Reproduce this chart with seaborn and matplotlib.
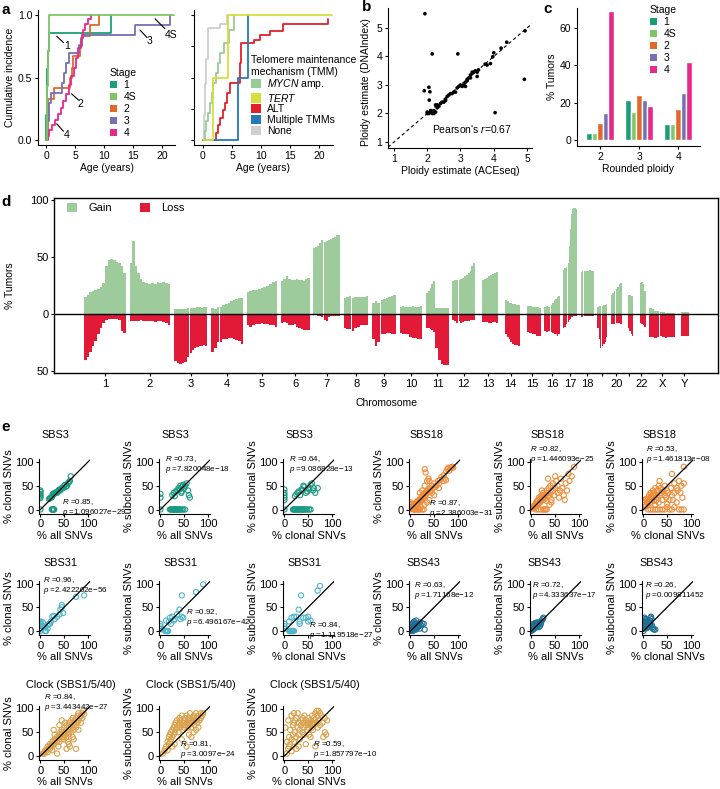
"""Neuroblastoma summary figure: incidence curves, ploidy, CNV profile and signature scatter panels."""

import matplotlib
matplotlib.use("Agg")
import matplotlib.pyplot as plt
import numpy as np
import pandas as pd
import seaborn as sns
from matplotlib.patches import Patch

FIG_W, FIG_H = 720, 789

# ---------------- panel a: cumulative incidence ----------------
STAGE_LABELS = ["1", "4S", "2", "3", "4"]
STAGE_COLORS = ["#1b9e77", "#80c565", "#e0692a", "#7570b3", "#e7298a"]

STAGE1_AGE = [0, 0.05, 0.1, 0.2, 0.3, 0.45, 11.2]
STAGE1_CI = [0, 0.2, 0.43, 0.57, 0.71, 0.86, 1.0]
STAGE4S_AGE = [0, 0.1, 0.2, 0.3, 0.4, 0.5, 0.6, 22]
STAGE4S_CI = [0, 0.2, 0.43, 0.57, 0.71, 0.86, 1.0, 1.0]
STAGE2_AGE = [0, 0.3, 0.4, 1.4, 4.2, 4.4, 4.6, 5.9, 6.2, 7.5, 9.2]
STAGE2_CI = [0, 0.08, 0.33, 0.42, 0.5, 0.58, 0.67, 0.75, 0.83, 0.92, 1.0]
STAGE3_AGE = [0, 0.2, 0.5, 0.8, 2.8, 3.1, 3.5, 4.0, 5.7, 6.2, 15.3, 21.3]
STAGE3_CI = [0, 0.15, 0.3, 0.38, 0.46, 0.54, 0.62, 0.7, 0.76, 0.84, 0.92, 1.0]
STAGE4_AGE = [0, 0.3, 0.6, 1.0, 1.5, 2.0, 2.5, 3.0, 3.5, 3.9, 4.3, 4.8, 5.2, 5.6, 6.0, 6.4, 6.8, 7.2, 7.7]
STAGE4_CI = [0, 0.03, 0.08, 0.12, 0.16, 0.21, 0.26, 0.31, 0.37, 0.44, 0.51, 0.58, 0.66, 0.74,
             0.82, 0.88, 0.93, 0.97, 1.0]

# label text, label position, leader line start / end
STAGE_TAGS = ["1", "2", "3", "4", "4S"]
STAGE_TAG_XY = [(3.6, 0.75), (6.0, 0.29), (17.9, 0.79), (3.6, 0.04), (21.6, 0.84)]
STAGE_TAG_FROM = [(1.84, 0.83), (4.4, 0.37), (16.2, 0.88), (1.84, 0.13), (18.8, 0.97)]
STAGE_TAG_TO = [(3.0, 0.78), (5.6, 0.32), (17.4, 0.82), (3.0, 0.07), (20.5, 0.89)]

TMM_LABELS = [r"$\mathit{MYCN}$ amp.", r"$\mathit{TERT}$", "ALT", "Multiple TMMs", "None"]
TMM_COLORS = ["#98cc96", "#d6de3c", "#e3202b", "#2479b8", "#cfcfcf"]
MYCN_AGE = [0, 0.3, 0.6, 0.9, 1.2, 1.5, 1.8, 2.2, 2.6, 3.0, 3.6, 4.4, 5.3]
MYCN_CI = [0, 0.07, 0.15, 0.22, 0.3, 0.38, 0.46, 0.54, 0.62, 0.7, 0.78, 0.88, 1.0]
TERT_AGE = [0, 1.8, 4.3, 22.2]
TERT_CI = [0, 0.5, 1.0, 1.0]
ALT_AGE = [0, 2.2, 2.6, 3.0, 3.4, 3.8, 4.2, 4.6, 6.3, 6.6, 8.8, 9.9, 11.5, 13.8, 21.5]
ALT_CI = [0, 0.06, 0.12, 0.18, 0.24, 0.3, 0.38, 0.46, 0.62, 0.78, 0.8, 0.84, 0.87, 0.93, 0.97]
MULTI_AGE = [0, 6.1, 7.7]
MULTI_CI = [0, 0.5, 1.0]
NONE_AGE = [0, 0.2, 0.4, 0.6, 0.8, 0.9, 3.0, 4.1]
NONE_CI = [0, 0.2, 0.45, 0.65, 0.8, 0.9, 0.93, 1.0]

# ---------------- panel b: ploidy estimates ----------------
ACESEQ_PLOIDY = [2.0, 2.05, 2.1, 2.15, 2.2, 2.1, 2.2, 2.25, 2.3, 2.3, 2.35, 2.4, 2.45, 2.5, 2.55,
                 2.6, 2.65, 2.7, 2.55, 2.8, 2.9, 2.95, 3.0, 3.05, 3.1, 3.15, 3.2, 3.25, 3.3, 3.35,
                 3.4, 3.45, 3.5, 3.5, 3.3, 3.15, 3.2, 3.54, 3.74, 3.8, 3.9, 3.97, 4.0, 4.22, 4.39,
                 4.94, 2.75, 2.85, 2.0, 2.25, 1.93, 2.15, 2.92, 1.91, 2.05, 2.08, 2.06, 4.04, 4.92]
DNAINDEX_PLOIDY = [2.0, 2.0, 2.05, 2.0, 2.0, 2.1, 2.1, 2.05, 2.2, 2.3, 2.25, 2.35, 2.4, 2.4, 2.5,
                   2.6, 2.65, 2.7, 2.45, 2.75, 2.9, 2.95, 3.0, 2.95, 3.0, 3.1, 3.2, 3.25, 3.35, 3.45,
                   3.45, 3.5, 3.45, 3.3, 3.25, 2.95, 3.15, 3.53, 3.73, 3.7, 3.75, 3.99, 4.13, 4.29,
                   4.5, 4.9, 2.7, 2.75, 2.05, 2.3, 5.5, 4.09, 4.09, 2.8, 2.92, 2.76, 2.47, 2.03, 3.2]

# ---------------- panel c: ploidy by stage ----------------
PLOIDY_GROUPS = ["2", "3", "4"]
PCT_STAGE1 = [3.6, 21.5, 8.4]
PCT_STAGE4S = [3.6, 15.2, 8.4]
PCT_STAGE2 = [9.0, 24.2, 16.7]
PCT_STAGE3 = [14.3, 21.5, 25.1]
PCT_STAGE4 = [69.3, 18.3, 41.7]

# ---------------- panel d: CNV frequency along the genome ----------------
CHROM_LABELS = [str(i) for i in range(1, 23)] + ["X", "Y"]
CHROM_TICK_LABELS = [str(i) for i in range(1, 19)] + ["", "20", "", "22", "X", "Y"]
CHROM_LEN_MB = [249, 243, 198, 191, 181, 171, 159, 146, 141, 136, 135, 134, 115, 107, 103,
                90, 81, 78, 59, 63, 48, 51, 155, 59]
CENTROMERE_MB = [125, 93, 91, 50, 48, 60, 60, 45, 49, 40, 53, 35, 17, 17, 19, 36, 24, 17, 26,
                 28, 13, 15, 60, 12]
GAIN_P = [[15, 17, 19, 20, 21, 22, 24, 27], [45, 64, 42, 36, 31, 28], [4, 4, 4, 4, 4, 5],
          [5, 4, 6], [19, 20, 21], [29, 31, 33, 31], [58, 59, 60, 62, 65], [14, 15, 16],
          [10, 11, 10], [6, 7, 6], [18, 20, 23, 26, 29], [29, 30, 30], [], [], [], [6, 7, 6],
          [39, 40, 41], [37, 38], [6, 7, 7], [17, 18, 20], [], [], [5, 4, 3, 3], []]
GAIN_Q = [[42, 47, 48, 47, 46, 45, 42, 36], [27, 26, 27, 26, 28, 27, 28, 27, 26],
          [5, 5, 5, 6, 6, 5, 6, 6], [6, 8, 9, 10, 11, 12, 13, 14, 14],
          [21, 22, 23, 24, 25, 26, 28, 29], [30, 30, 31, 30, 30, 29, 31, 32],
          [63, 64, 65, 66, 67, 68, 69, 69], [14, 15, 15, 15, 15, 16], [12, 13, 14, 15, 16, 17],
          [6, 6, 7, 6, 6, 7], [5, 5, 5, 5, 5], [30, 31, 32, 33, 34, 36, 38, 42, 45],
          [30, 31, 32, 33, 34, 35, 36, 37], [12, 11, 10, 10, 9, 9, 8, 8],
          [7, 7, 7, 6, 6, 6, 6, 5], [8, 10, 12, 13, 15, 16], [45, 60, 75, 88, 92, 93, 93, 92],
          [38, 38, 38, 38, 39, 38, 38], [7, 8, 8, 9], [22, 24, 26, 27], [17, 17, 16, 16],
          [27, 28, 26, 20], [2, 2, 1, 1, 1, 1], [2, 2]]
LOSS_P = [[40, 38, 33, 28, 24, 18, 12, 8], [6, 6, 6, 6, 5, 6], [41, 43, 44, 43, 42, 38],
          [33, 30, 25], [10, 11, 10], [8, 7, 8, 10], [1, 1, 2, 2, 3], [12, 13, 13],
          [22, 28, 25], [17, 18, 18], [12, 12, 13, 14, 16], [5, 6, 8], [], [], [], [15, 16, 15],
          [12, 11, 9], [3, 3], [12, 22, 30], [9, 9, 9], [], [], [20, 20, 21, 20], []]
LOSS_Q = [[5, 4, 4, 4, 4, 5, 15, 17], [6, 6, 6, 7, 6, 6, 7, 8, 10],
          [34, 32, 30, 29, 28, 28, 27, 28], [25, 22, 22, 21, 21, 22, 23, 24, 26],
          [9, 9, 8, 9, 9, 10, 10, 11], [10, 9, 11, 12, 13, 14, 14, 14],
          [5, 6, 3, 2, 2, 2, 2, 2], [15, 12, 11, 10, 10, 10], [18, 18, 17, 17, 18, 18],
          [18, 20, 21, 21, 22, 22], [30, 40, 44, 45, 45], [6, 8, 7, 6, 6, 6, 5, 5, 5],
          [7, 7, 7, 8, 8, 7, 7, 8], [18, 20, 22, 25, 26, 27, 27, 28],
          [16, 17, 17, 18, 18, 19, 19, 19], [16, 17, 18, 18, 19, 18], [7, 5, 4, 3, 3, 2, 2, 2],
          [2, 2, 2, 2, 2, 2, 2], [28, 26, 25, 20], [8, 8, 8, 9], [12, 15, 18, 19],
          [8, 9, 10, 11], [19, 20, 21, 20, 20, 20], [19, 19]]
GAIN_COLOR = "#9dcb9b"
LOSS_COLOR = "#e31a37"

# ---------------- panel e: signature exposures (x, y) ----------------
SBS3_CLONAL_VS_ALL = [
    (0, 24), (0, 27), (0, 30), (0, 33), (0, 37), (0, 40),
    (24, 0), (25, 0), (26, 0), (27, 0), (28, 0), (29, 0),
    (18, 22), (20, 24), (22, 25), (24, 26), (25, 28), (26, 33), (28, 32), (30, 35), (31, 34),
    (33, 36), (35, 35), (36, 38), (38, 40), (40, 42), (42, 40), (44, 44), (46, 46), (48, 45),
    (50, 50), (52, 52), (54, 48), (56, 50), (58, 55), (60, 58), (62, 60), (64, 70), (0, 0)]
SBS3_SUBCLONAL_VS_ALL = [
    (0, 25), (0, 33),
    (20, 0), (22, 0), (24, 0), (26, 0), (27, 0), (28, 0), (29, 0), (30, 0), (31, 0), (32, 0),
    (33, 0), (34, 0), (35, 0), (36, 0), (38, 0), (40, 0), (42, 0), (45, 0), (48, 0), (52, 0),
    (25, 30), (28, 35), (30, 28), (32, 38), (35, 40), (38, 45), (40, 42), (42, 50), (44, 35),
    (46, 48), (48, 52), (50, 45), (52, 50), (55, 55), (58, 40), (60, 30), (62, 25), (45, 38),
    (0, 0)]
SBS3_SUBCLONAL_VS_CLONAL = [
    (0, 20), (0, 25), (0, 30), (0, 35), (0, 42),
    (18, 0), (20, 0), (22, 0), (24, 0), (26, 0), (28, 0), (30, 0), (32, 0), (34, 0), (36, 0),
    (38, 0), (40, 0), (42, 0), (45, 0), (48, 0), (52, 0), (55, 0),
    (22, 28), (25, 32), (28, 35), (30, 38), (33, 30), (36, 42), (38, 40), (40, 50), (42, 48),
    (45, 35), (48, 38), (50, 45), (52, 42), (55, 52), (58, 55), (60, 40), (62, 45), (65, 35),
    (70, 45), (0, 0)]

SBS18_CLONAL_VS_ALL = [
    (2, 2), (3, 5), (5, 3), (5, 8), (6, 6), (8, 10), (8, 5), (10, 12), (10, 8), (12, 10),
    (12, 15), (14, 12), (15, 18), (15, 10), (16, 14), (18, 20), (18, 15), (20, 22), (20, 18),
    (22, 25), (22, 20), (24, 28), (25, 22), (26, 30), (28, 25), (28, 32), (30, 35), (30, 28),
    (32, 30), (34, 38), (35, 40), (36, 35), (38, 42), (40, 45), (40, 38), (42, 40), (45, 50),
    (48, 45), (50, 55), (52, 48), (55, 50), (58, 60), (60, 55), (62, 62), (65, 68), (70, 72),
    (72, 65), (75, 80), (78, 85), (80, 88), (82, 82), (85, 88), (88, 90), (90, 88),
    (30, 85), (32, 78), (35, 60), (38, 65), (25, 40), (20, 35), (40, 60), (30, 50),
    (5, 0), (8, 0), (10, 0), (12, 0), (15, 0), (18, 0), (20, 0), (25, 0), (28, 0), (22, 5),
    (30, 10), (35, 15), (40, 20), (45, 35), (70, 60), (75, 62), (60, 45), (50, 30), (10, 2),
    (15, 5), (0, 10), (0, 15), (3, 12)]
SBS18_SUBCLONAL_VS_ALL = [
    (2, 2), (4, 5), (5, 8), (6, 3), (8, 10), (8, 6), (10, 12), (10, 15), (12, 8), (12, 18),
    (14, 20), (15, 12), (16, 25), (18, 15), (18, 22), (20, 28), (20, 18), (22, 25), (22, 30),
    (24, 20), (25, 35), (26, 28), (28, 30), (28, 22), (30, 32), (30, 25), (32, 40), (32, 18),
    (34, 35), (35, 28), (36, 45), (38, 30), (40, 50), (40, 35), (42, 20), (45, 55), (45, 40),
    (48, 30), (50, 45), (52, 60), (55, 35), (55, 50), (58, 25), (60, 40), (62, 65), (65, 45),
    (68, 30), (70, 20), (72, 55), (75, 40), (78, 75), (80, 60), (85, 70), (90, 90), (35, 65),
    (50, 70), (22, 40), (25, 0), (28, 0), (30, 0), (32, 0), (20, 0), (15, 0), (10, 0),
    (38, 10), (42, 15)]
SBS18_SUBCLONAL_VS_CLONAL = [
    (0, 20), (0, 15), (2, 10), (3, 5), (5, 8), (5, 22), (8, 15), (8, 20), (10, 12), (10, 25),
    (12, 18), (12, 30), (14, 22), (15, 15), (15, 35), (16, 28), (18, 25), (18, 20), (20, 30),
    (20, 40), (22, 35), (22, 18), (24, 28), (25, 45), (25, 10), (26, 32), (28, 38), (28, 20),
    (30, 40), (30, 25), (32, 50), (32, 15), (34, 60), (35, 30), (36, 45), (38, 35), (40, 20),
    (40, 42), (42, 38), (45, 30), (45, 50), (48, 25), (50, 40), (50, 12), (52, 35), (55, 20),
    (58, 45), (60, 30), (60, 75), (62, 20), (65, 35), (65, 55), (70, 15), (70, 45), (72, 40),
    (75, 60), (78, 35), (80, 50), (82, 25), (85, 90), (85, 55), (20, 0), (25, 0), (30, 0),
    (35, 0), (40, 0), (45, 0), (50, 5), (55, 0), (60, 0), (65, 5), (75, 0), (80, 0), (85, 0),
    (10, 0), (15, 0)]

SBS31_CLONAL_VS_ALL = [
    (0, 15), (0, 18), (0, 20), (0, 12), (5, 10), (5, 18), (10, 0), (12, 0), (15, 5), (18, 15),
    (20, 15), (22, 20), (25, 30), (28, 32), (30, 25), (35, 30), (40, 35), (42, 45), (45, 50),
    (45, 55), (48, 38), (75, 72), (92, 75), (10, 8), (15, 12), (0, 0), (2, 3)]
SBS31_SUBCLONAL_VS_ALL = [
    (0, 5), (0, 10), (0, 15), (10, 0), (12, 0), (14, 0), (15, 0), (16, 0), (12, 22), (18, 20),
    (22, 15), (25, 30), (28, 22), (30, 25), (35, 35), (40, 45), (42, 25), (45, 30), (48, 28),
    (45, 75), (75, 82), (90, 98), (20, 28), (5, 3)]
SBS31_SUBCLONAL_VS_CLONAL = [
    (0, 5), (0, 10), (0, 15), (10, 0), (12, 0), (14, 0), (16, 0), (18, 0), (20, 0), (10, 20),
    (15, 28), (20, 30), (25, 30), (30, 45), (32, 20), (35, 75), (40, 28), (45, 28), (50, 30),
    (55, 22), (50, 20), (70, 85), (75, 95), (32, 15)]

SBS43_CLONAL_VS_ALL = [
    (0, 0), (1, 3), (2, 1), (3, 5), (3, 8), (4, 2), (5, 4), (5, 10), (6, 6), (7, 3), (8, 7),
    (8, 12), (9, 9), (10, 5), (10, 15), (11, 8), (12, 10), (12, 22), (13, 12), (14, 6),
    (15, 14), (15, 9), (16, 11), (18, 15), (20, 18), (22, 13), (25, 16), (28, 15), (2, 12),
    (4, 15), (6, 18), (8, 20), (10, 5), (12, 3), (14, 8), (16, 12), (18, 10), (20, 5),
    (30, 3), (5, 0)]
SBS43_SUBCLONAL_VS_ALL = [
    (0, 0), (1, 2), (2, 5), (3, 3), (4, 8), (5, 6), (6, 10), (7, 12), (8, 9), (9, 14),
    (10, 11), (11, 15), (12, 13), (13, 17), (14, 12), (15, 16), (16, 14), (18, 18), (20, 20),
    (22, 22), (25, 28), (2, 10), (4, 12), (6, 15), (8, 17), (10, 13), (12, 18), (14, 16),
    (16, 15), (18, 10), (3, 6), (5, 4), (7, 7), (9, 11), (11, 8), (0, 10), (1, 14), (15, 8),
    (20, 15), (24, 25)]
SBS43_SUBCLONAL_VS_CLONAL = [
    (0, 0), (1, 5), (2, 10), (3, 25), (4, 8), (5, 15), (6, 20), (7, 12), (8, 18), (9, 14),
    (10, 10), (12, 22), (14, 16), (15, 28), (16, 30), (18, 12), (20, 5), (22, 3), (2, 28),
    (4, 22), (6, 25), (8, 14), (10, 8), (12, 18), (14, 12), (3, 18), (5, 10), (7, 6), (0, 12),
    (1, 20), (11, 15), (13, 22), (19, 8), (17, 25), (25, 3)]

CLOCK_CLONAL_VS_ALL = [
    (5, 5), (8, 8), (10, 12), (12, 10), (15, 15), (15, 20), (18, 18), (20, 15), (20, 25),
    (22, 22), (25, 20), (25, 30), (28, 55), (28, 25), (30, 32), (30, 35), (32, 28), (35, 5),
    (35, 40), (35, 30), (38, 38), (40, 45), (40, 30), (42, 40), (42, 50), (45, 45), (45, 35),
    (45, 55), (48, 50), (48, 40), (50, 50), (50, 60), (50, 35), (52, 45), (52, 70), (55, 55),
    (55, 40), (55, 65), (58, 50), (58, 30), (60, 60), (60, 70), (60, 45), (62, 55), (62, 20),
    (65, 65), (65, 75), (65, 50), (68, 60), (68, 80), (70, 70), (70, 55), (70, 35), (72, 75),
    (72, 65), (75, 80), (75, 60), (75, 15), (78, 85), (78, 70), (80, 75), (80, 90), (80, 55),
    (82, 80), (85, 85), (85, 70), (88, 90), (88, 80), (90, 95), (92, 88), (40, 65), (45, 75),
    (60, 25), (68, 40), (55, 15), (30, 45), (38, 20), (25, 12), (15, 8), (8, 5)]
CLOCK_SUBCLONAL_VS_ALL = [
    (5, 5), (8, 10), (10, 15), (12, 20), (15, 30), (15, 12), (18, 25), (18, 40), (20, 45),
    (20, 30), (22, 50), (22, 35), (25, 55), (25, 40), (28, 60), (28, 45), (30, 65), (30, 50),
    (32, 55), (32, 70), (35, 60), (35, 75), (38, 65), (38, 50), (40, 70), (40, 80), (42, 60),
    (42, 75), (45, 65), (45, 85), (48, 70), (48, 55), (50, 75), (50, 60), (52, 80), (52, 65),
    (55, 70), (55, 85), (58, 75), (58, 60), (60, 80), (60, 65), (62, 70), (62, 90), (65, 75),
    (65, 60), (68, 80), (68, 70), (70, 75), (70, 85), (72, 65), (72, 80), (75, 75), (75, 90),
    (78, 80), (78, 70), (80, 85), (80, 60), (82, 75), (85, 80), (85, 90), (88, 85), (90, 90),
    (55, 20), (60, 45), (65, 40), (70, 50), (45, 35), (30, 25), (25, 20), (75, 55)]
CLOCK_SUBCLONAL_VS_CLONAL = [
    (5, 5), (5, 30), (8, 15), (10, 20), (10, 40), (12, 25), (12, 55), (15, 35), (15, 10),
    (18, 45), (18, 65), (20, 30), (20, 70), (22, 50), (22, 75), (25, 40), (25, 80), (25, 15),
    (28, 60), (28, 90), (30, 45), (30, 70), (32, 55), (32, 35), (35, 75), (35, 65), (38, 50),
    (38, 80), (40, 70), (40, 60), (42, 45), (42, 85), (45, 65), (45, 75), (48, 55), (48, 70),
    (50, 80), (50, 60), (52, 45), (52, 70), (55, 65), (55, 75), (58, 60), (58, 85), (60, 70),
    (60, 55), (62, 80), (62, 65), (65, 75), (65, 90), (68, 95), (68, 70), (70, 60), (70, 85),
    (72, 75), (72, 95), (75, 65), (75, 90), (78, 85), (80, 70), (82, 40), (85, 80), (85, 50),
    (88, 45), (90, 75), (2, 60), (8, 75), (15, 85), (20, 90), (45, 25), (55, 40), (65, 20),
    (30, 20)]

SIGNATURES = ["SBS3", "SBS18", "SBS31", "SBS43", "Clock (SBS1/5/40)"]
SIG_COLORS = ["#1a9a84", "#ee8e3c", "#4db5ca", "#1f6f95", "#d9a14c"]
SIG_POINTS = [
    [SBS3_CLONAL_VS_ALL, SBS3_SUBCLONAL_VS_ALL, SBS3_SUBCLONAL_VS_CLONAL],
    [SBS18_CLONAL_VS_ALL, SBS18_SUBCLONAL_VS_ALL, SBS18_SUBCLONAL_VS_CLONAL],
    [SBS31_CLONAL_VS_ALL, SBS31_SUBCLONAL_VS_ALL, SBS31_SUBCLONAL_VS_CLONAL],
    [SBS43_CLONAL_VS_ALL, SBS43_SUBCLONAL_VS_ALL, SBS43_SUBCLONAL_VS_CLONAL],
    [CLOCK_CLONAL_VS_ALL, CLOCK_SUBCLONAL_VS_ALL, CLOCK_SUBCLONAL_VS_CLONAL],
]
R_VALUES = [["0.85", "0.73", "0.64"], ["0.87", "0.82", "0.53"], ["0.96", "0.92", "0.84"],
            ["0.63", "0.72", "0.26"], ["0.84", "0.81", "0.59"]]
P_VALUES = [["1.096027e−29", "7.820048e−18", "9.086828e−13"],
            ["2.386003e−31", "1.446093e−25", "1.461813e−08"],
            ["2.422202e−56", "6.496167e−42", "1.119518e−27"],
            ["1.71168e−12", "4.333637e−17", "0.009811452"],
            ["3.443442e−27", "3.0097e−24", "1.857797e−10"]]
E_XLABELS = ["% all SNVs", "% all SNVs", "% clonal SNVs"]
E_YLABELS = ["% clonal SNVs", "% subclonal SNVs", "% subclonal SNVs"]

# layout of panel e (pixels / data coordinates)
E_COL_LEFT = [39, 159, 283, 409, 530, 642]
E_ROW_ZERO = [509.5, 631, 756]
E_TITLE_Y = [435, 563, 685]
E_SLOT = [(0, 0), (0, 3), (1, 0), (1, 3), (2, 0)]
E_TITLE_SHIFT = [2, 0, 4, -3, -13]
E_STAT_XY = [[(46, 26), (10, 117), (10, 117)], [(39, 25), (-2, 138), (5, 138)],
             [(6, 118), (53, 50), (52, 23)], [(8, 108), (2, 108), (4, 108)],
             [(7, 134), (42, 35), (60, 35)]]
E_PX_PER_UNIT = 0.475


def add_axes_px(fig, left, top, right, bottom):
    return fig.add_axes([left / FIG_W, 1 - bottom / FIG_H, (right - left) / FIG_W, (bottom - top) / FIG_H])


def fig_point(px, py):
    return (px / FIG_W, 1 - py / FIG_H)


def patch_legend(ax, fig, labels, colors, title, anchor_px, size=7.5, ncol=1, **kw):
    handles = [Patch(facecolor=c, edgecolor="none", label=l) for l, c in zip(labels, colors)]
    leg = ax.legend(handles=handles, title=title, loc="upper left", ncol=ncol,
                    bbox_to_anchor=fig_point(*anchor_px), bbox_transform=fig.transFigure,
                    frameon=False, fontsize=size, title_fontsize=size, borderpad=0,
                    borderaxespad=0, alignment="left", **kw)
    return leg


def draw_step_curves(ax, curves):
    for ages, ci, color in curves:
        sns.lineplot(x=ages, y=ci, drawstyle="steps-post", estimator=None, sort=False,
                     color=color, lw=1.3, ax=ax)


def main() -> None:
    sns.set_style("ticks")
    plt.rcParams["font.family"] = ["Liberation Sans", "DejaVu Sans"]
    plt.rcParams.update({
        "mathtext.fontset": "custom",
        "mathtext.rm": "Liberation Sans",
        "mathtext.it": "Liberation Sans:italic",
        "font.size": 7.5, "axes.labelsize": 7.5,
        "xtick.labelsize": 7.5, "ytick.labelsize": 7.5,
        "axes.linewidth": 0.8, "axes.edgecolor": "black",
        "xtick.major.width": 0.8, "ytick.major.width": 0.8,
        "xtick.major.size": 2.5, "ytick.major.size": 2.5,
        "xtick.major.pad": 1.5, "ytick.major.pad": 1.5,
        "xtick.color": "black", "ytick.color": "black",
        "axes.labelcolor": "black", "text.color": "black",
        "axes.labelpad": 2,
    })

    fig = plt.figure(figsize=(FIG_W / 100, FIG_H / 100), dpi=100)

    # ---- a (left): by stage
    ax = add_axes_px(fig, 38, 10, 175, 145)
    c = dict(zip(STAGE_LABELS, STAGE_COLORS))
    draw_step_curves(ax, [(STAGE1_AGE, STAGE1_CI, c["1"]), (STAGE2_AGE, STAGE2_CI, c["2"]),
                          (STAGE3_AGE, STAGE3_CI, c["3"]), (STAGE4_AGE, STAGE4_CI, c["4"]),
                          (STAGE4S_AGE, STAGE4S_CI, c["4S"])])
    for tag, xy, p0, p1 in zip(STAGE_TAGS, STAGE_TAG_XY, STAGE_TAG_FROM, STAGE_TAG_TO):
        ax.plot([p0[0], p1[0]], [p0[1], p1[1]], color="black", lw=0.8)
        ax.text(xy[0], xy[1], tag, ha="center", va="center", fontsize=7.5)
    ax.set_xlim(-1.38, 22.24)
    ax.set_ylim(-0.04, 1.04)
    ax.set_xticks([0, 5, 10, 15, 20])
    ax.set_yticks([0, 0.5, 1.0])
    ax.set_yticklabels(["0.0", "0.5", "1.0"])
    ax.set_xlabel("Age (years)")
    ax.set_ylabel("Cumulative incidence")
    sns.despine(ax=ax)
    patch_legend(ax, fig, STAGE_LABELS, STAGE_COLORS, "Stage", (110, 68),
                 handlelength=0.7, handleheight=0.7, handletextpad=0.6, labelspacing=0.2)

    # ---- a (right): by TMM
    ax = add_axes_px(fig, 194, 10, 333, 145)
    t = dict(zip(["MYCN", "TERT", "ALT", "Multi", "None"], TMM_COLORS))
    draw_step_curves(ax, [(NONE_AGE, NONE_CI, t["None"]), (MYCN_AGE, MYCN_CI, t["MYCN"]),
                          (ALT_AGE, ALT_CI, t["ALT"]), (MULTI_AGE, MULTI_CI, t["Multi"]),
                          (TERT_AGE, TERT_CI, t["TERT"])])
    ax.set_xlim(-1.55, 22.4)
    ax.set_ylim(-0.04, 1.04)
    ax.set_xticks([0, 5, 10, 15, 20])
    ax.set_yticks([0, 0.25, 0.5, 0.75, 1.0])
    ax.set_yticklabels([])
    ax.set_xlabel("Age (years)")
    sns.despine(ax=ax)
    patch_legend(ax, fig, TMM_LABELS, TMM_COLORS, "Telomere maintenance\nmechanism (TMM)",
                 (251, 55), handlelength=1.0, handleheight=1.0, handletextpad=0.5,
                 labelspacing=0.05)

    # ---- b: ploidy comparison
    ax = add_axes_px(fig, 388, 8, 532, 148)
    ax.axline((0, 0), (1, 1), color="black", lw=0.8, ls=(0, (3, 2.5)))
    sns.scatterplot(x=ACESEQ_PLOIDY, y=DNAINDEX_PLOIDY, color="black", s=7,
                    edgecolor="none", ax=ax)
    ax.text(2.13, 1.45, "Pearson's $\\mathit{r}$=0.67", va="center", ha="left", fontsize=7.5)
    ax.set_xlim(0.82, 5.15)
    ax.set_ylim(0.79, 5.70)
    ax.set_xticks([1, 2, 3, 4, 5])
    ax.set_yticks([1, 2, 3, 4, 5])
    ax.set_xlabel("Ploidy estimate (ACEseq)")
    ax.set_ylabel("Ploidy estimate (DNAIndex)")
    ax.yaxis.set_label_coords(-0.12, 0.47)
    sns.despine(ax=ax)

    # ---- c: rounded ploidy by stage
    ax = add_axes_px(fig, 577, 8, 700, 146)
    stage_pct = [PCT_STAGE1, PCT_STAGE4S, PCT_STAGE2, PCT_STAGE3, PCT_STAGE4]
    df_c = pd.DataFrame({
        "ploidy": PLOIDY_GROUPS * len(STAGE_LABELS),
        "stage": [s for s in STAGE_LABELS for _ in PLOIDY_GROUPS],
        "pct": [v for vals in stage_pct for v in vals],
    })
    sns.barplot(data=df_c, x="ploidy", y="pct", hue="stage", hue_order=STAGE_LABELS,
                order=PLOIDY_GROUPS, palette=STAGE_COLORS, width=0.7, saturation=1,
                errorbar=None, legend=False, ax=ax)
    ax.set_xlim(-0.59, 2.56)
    ax.set_ylim(-3.2, 70.7)
    ax.set_yticks([0, 20, 40, 60])
    ax.set_xlabel("Rounded ploidy")
    ax.set_ylabel("% Tumors")
    sns.despine(ax=ax)
    patch_legend(ax, fig, STAGE_LABELS, STAGE_COLORS, "Stage", (650, 5),
                 handlelength=0.7, handleheight=0.7, handletextpad=0.6, labelspacing=0.2)

    # ---- d: genome-wide gains and losses
    ax = add_axes_px(fig, 54, 198, 718, 373)
    gap_mb = 22
    offsets = np.concatenate([[0], np.cumsum(np.array(CHROM_LEN_MB) + gap_mb)[:-1]])
    cen_half = 1.5
    for i, length in enumerate(CHROM_LEN_MB):
        off = offsets[i]
        cen = CENTROMERE_MB[i]
        arms = [(off, off + cen - cen_half, GAIN_P[i], LOSS_P[i]),
                (off + cen + cen_half, off + length, GAIN_Q[i], LOSS_Q[i])]
        for start, end, gains, losses in arms:
            if gains:
                edges = np.linspace(start, end, len(gains) + 1)
                ax.fill_between(edges, list(gains) + [gains[-1]], 0, step="post",
                                color=GAIN_COLOR, lw=0)
            if losses:
                edges = np.linspace(start, end, len(losses) + 1)
                neg = [-v for v in losses]
                ax.fill_between(edges, neg + [neg[-1]], 0, step="post", color=LOSS_COLOR, lw=0)
    ax.axhline(0, color="black", lw=1.0)
    centers = offsets + np.array(CHROM_LEN_MB) / 2
    mb_per_px = (centers[-1] - 0) / (684 - 84)
    ax.set_xlim(-(84 - 54) * mb_per_px, (718 - 84) * mb_per_px)
    ax.set_ylim(-51.8, 101.8)
    ax.set_xticks(centers)
    ax.set_xticklabels(CHROM_TICK_LABELS)
    ax.set_yticks([-50, 0, 50, 100])
    ax.set_yticklabels(["50", "0", "50", "100"])
    ax.tick_params(labelsize=8)
    ax.set_xlabel("Chromosome", labelpad=7)
    ax.set_ylabel("% Tumors", labelpad=11)
    for side in ["top", "right", "left", "bottom"]:
        ax.spines[side].set_linewidth(1.0)
    patch_legend(ax, fig, ["Gain", "Loss"], [GAIN_COLOR, LOSS_COLOR], None, (67, 203),
                 size=8, ncol=2, handlelength=0.9, handleheight=0.9, handletextpad=1.0,
                 columnspacing=2.5)

    # ---- e: signature exposure scatter panels
    width_px = 108 * E_PX_PER_UNIT
    for s, sig in enumerate(SIGNATURES):
        row, col0 = E_SLOT[s]
        zero_y = E_ROW_ZERO[row]
        for k in range(3):
            left = E_COL_LEFT[col0 + k]
            ax = add_axes_px(fig, left, zero_y - 106 * E_PX_PER_UNIT,
                             left + width_px, zero_y + 9 * E_PX_PER_UNIT)
            xs, ys = zip(*SIG_POINTS[s][k])
            sns.scatterplot(x=list(xs), y=list(ys), color=SIG_COLORS[s], facecolor="none",
                            edgecolor=SIG_COLORS[s], linewidth=0.8, s=14, ax=ax)
            ax.axline((0, 0), (1, 1), color="black", lw=0.9)
            ax.set_xlim(-3, 105)
            ax.set_ylim(-9, 106)
            ax.set_xticks([0, 50, 100])
            ax.set_yticks([0, 50, 100])
            ax.tick_params(labelsize=8)
            ax.set_xlabel(E_XLABELS[k], labelpad=1, fontsize=8)
            ax.set_ylabel(E_YLABELS[k], labelpad=1, fontsize=8)
            sns.despine(ax=ax)
            sx, sy = E_STAT_XY[s][k]
            ax.text(sx, sy, f"$\\mathit{{R}}$ ={R_VALUES[s][k]},\n$\\mathit{{p}}$ ={P_VALUES[s][k]}",
                    ha="left", va="top", fontsize=5.8, linespacing=1.0)
            tx, ty = fig_point(left + E_TITLE_SHIFT[s], E_TITLE_Y[row])
            fig.text(tx, ty, sig, ha="left", va="center", fontsize=7.8)

    # panel letters
    for letter, (px, py) in zip("abcde", [(1, 3), (362, 0), (543, 2), (1, 195), (1, 420)]):
        fx, fy = fig_point(px, py)
        fig.text(fx, fy, letter, ha="left", va="top", fontsize=11, fontweight="bold")

    fig.savefig("out.png", dpi=100)
    plt.close(fig)


if __name__ == "__main__":
    main()
